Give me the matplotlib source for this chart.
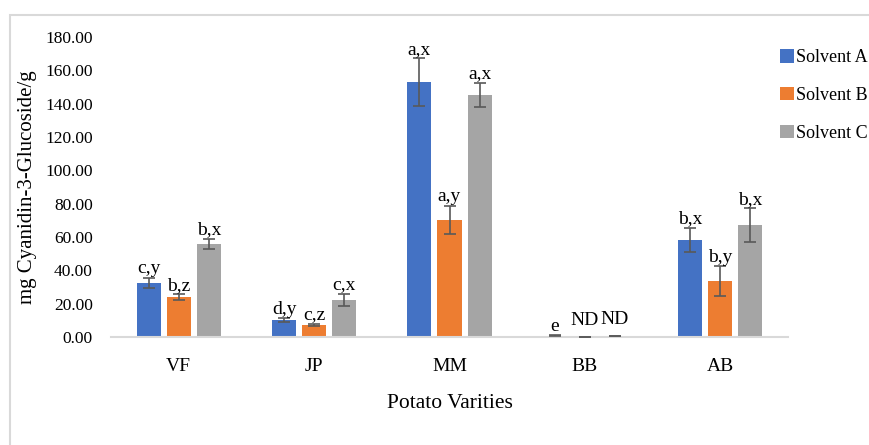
import numpy as np
import matplotlib
matplotlib.use("Agg")
from matplotlib import pyplot as plt
from matplotlib.patches import Rectangle

plt.rcParams['font.family'] = ['Liberation Serif', 'DejaVu Serif']

varieties = ["VF", "JP", "MM", "BB", "AB"]
solvents = ["Solvent A", "Solvent B", "Solvent C"]
colors = ["#4472C4", "#ED7D31", "#A5A5A5"]

values = {
    "Solvent A": [32.5, 10.2, 153.0, 0.8, 58.2],
    "Solvent B": [24.0, 7.2, 70.2, 0.0, 33.6],
    "Solvent C": [55.8, 22.2, 145.2, 0.4, 67.2],
}
errors = {
    "Solvent A": [3.2, 1.2, 14.2, 0.3, 7.4],
    "Solvent B": [1.6, 0.7, 8.6, 0.0, 8.8],
    "Solvent C": [3.0, 3.6, 7.2, 0.0, 10.0],
}
letters = {
    "Solvent A": ["c,y", "d,y", "a,x", "e", "b,x"],
    "Solvent B": ["b,z", "c,z", "a,y", "ND", "b,y"],
    "Solvent C": ["b,x", "c,x", "a,x", "ND", "b,x"],
}

fig = plt.figure(figsize=(8.69, 4.45), dpi=100)
ax = fig.add_axes([111/869, 1-337/445, (788-111)/869, 300/445])

# outer chart border (cropped on right/bottom like the reference)
fig.patches.append(Rectangle((10/869, -0.1), 1.2, 1.1 - 15/445, transform=fig.transFigure,
                             fill=False, edgecolor="#D9D9D9", linewidth=1.5))

x = np.arange(len(varieties))
width = 0.178
step = 0.222
for i, s in enumerate(solvents):
    pos = x + (i - 1) * step
    err = errors[s]
    ax.bar(pos, values[s], width, color=colors[i], label=s, zorder=2)
    ax.errorbar(pos, values[s], yerr=err, fmt="none", ecolor="#595959",
                elinewidth=1.2, capsize=4, capthick=1.2, zorder=3)
    for p, v, e, t in zip(pos, values[s], err, letters[s]):
        off = 0.3 if e > 0 else 5
        ax.text(p, v + e + off, t, ha="center", va="bottom", fontsize=14)

ax.set_xlim(-0.5, 4.5)
ax.set_ylim(0, 180)
ax.set_yticks(np.arange(0, 181, 20))
ax.set_yticklabels([f"{v:.2f}" for v in np.arange(0, 181, 20)])
ax.set_xticks(x)
ax.set_xticklabels(varieties)
ax.tick_params(axis="y", length=0, pad=13, labelsize=12.5)
ax.tick_params(axis="x", length=0, pad=15, labelsize=14)
for sp in ["top", "right", "left"]:
    ax.spines[sp].set_visible(False)
ax.spines["bottom"].set_color("#D9D9D9")
ax.spines["bottom"].set_linewidth(1.5)

ax.set_xlabel("Potato Varities", fontsize=15.5, labelpad=14)
ax.set_ylabel("mg Cyanidin-3-Glucoside/g", fontsize=15, labelpad=6)

fig.legend(loc="upper left", bbox_to_anchor=(773/869, 1-42/445), frameon=False,
           fontsize=13, handlelength=0.75, handleheight=0.75, labelspacing=1.15,
           handletextpad=0.15, borderaxespad=0)

fig.savefig("out.png", dpi=100)
